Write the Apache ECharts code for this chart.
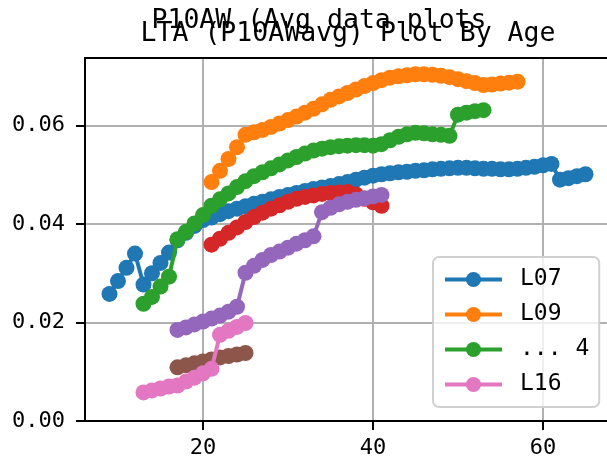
<!DOCTYPE html>
<html>
<head>
<meta charset="utf-8">
<script src="https://cdn.jsdelivr.net/npm/echarts@6/dist/echarts.min.js"></script>
<style>
html,body{margin:0;padding:0;background:#fff;}
#c{width:607px;height:463px;}
</style>
</head>
<body>
<div id="c"></div>
<script>
// ---- data (age -> P10AWavg) ----
const l07Start = 9;
const l07Values = [0.0258,0.0284,0.0311,0.0340,0.0277,0.0300,0.0321,0.0342,0.0367,0.0382,
  0.0396,0.0408,0.0413,0.0420,0.0426,0.0431,0.0436,0.0441,0.0445,0.0450,
  0.0455,0.0459,0.0463,0.0467,0.0471,0.0474,0.0477,0.0481,0.0485,0.0490,
  0.0494,0.0498,0.0501,0.0503,0.0505,0.0506,0.0508,0.0509,0.0511,0.0512,
  0.0513,0.0514,0.0514,0.0513,0.0512,0.0512,0.0511,0.0511,0.0512,0.0514,
  0.0516,0.0519,0.0522,0.0490,0.0493,0.0497,0.0501];
const l09Start = 21;
const l09Values = [0.0485,0.0508,0.0532,0.0556,0.0581,0.0586,0.0591,0.0597,0.0604,0.0611,
  0.0618,0.0626,0.0634,0.0643,0.0652,0.0659,0.0666,0.0673,0.0680,0.0686,
  0.0692,0.0697,0.0700,0.0702,0.0704,0.0704,0.0703,0.0701,0.0698,0.0694,
  0.0690,0.0686,0.0682,0.0683,0.0685,0.0687,0.0689];
const s3Start = 13;
const s3Values = [0.0238,0.0252,0.0273,0.0293,0.0369,0.0384,0.0401,0.0418,0.0437,0.0450,
  0.0462,0.0475,0.0487,0.0497,0.0505,0.0513,0.0521,0.0529,0.0536,0.0543,
  0.0549,0.0553,0.0556,0.0558,0.0559,0.0560,0.0560,0.0559,0.0562,0.0570,
  0.0577,0.0582,0.0585,0.0584,0.0582,0.0581,0.0579,0.0622,0.0626,0.0629,0.0631];
const s4Start = 21;
const s4Values = [0.0358,0.0370,0.0382,0.0393,0.0404,0.0414,0.0423,0.0431,0.0438,0.0445,
  0.0451,0.0455,0.0458,0.0461,0.0463,0.0464,0.0465,0.0460,0.0451,0.0444,0.0437];
const s5Start = 17;
const s5Values = [0.0185,0.0190,0.0196,0.0202,0.0208,0.0214,0.0222,0.0232,0.0301,0.0315,
  0.0327,0.0337,0.0344,0.0352,0.0360,0.0367,0.0375,0.0424,0.0433,0.0440,
  0.0445,0.0449,0.0452,0.0456,0.0459];
const s6Start = 17;
const s6Values = [0.0109,0.0113,0.0117,0.0121,0.0125,0.0129,0.0132,0.0135,0.0138];
const l16Start = 13;
const l16Values = [0.0058,0.0062,0.0066,0.0070,0.0072,0.0080,0.0088,0.0097,0.0106,0.0175,
  0.0183,0.0191,0.0199];

const seriesNames = ['L07','L09','... 4','S4','S5','S6','L16'];
const legendNames = ['L07','L09','... 4','L16'];
const xTicks = [20,40,60];
const yTicks = [0.00,0.02,0.04,0.06];
const mainTitle = 'LTA (P10AWavg) Plot By Age';
const superTitle = 'P10AW (Avg data plots';

// ---- build ----
const colors = ['#1f77b4','#ff7f0e','#2ca02c','#d62728','#9467bd','#8c564b','#e377c2'];
const starts = [l07Start,l09Start,s3Start,s4Start,s5Start,s6Start,l16Start];
const vals = [l07Values,l09Values,s3Values,s4Values,s5Values,s6Values,l16Values];
function pairs(start, v){ return v.map((y,i)=>[start+i,y]); }

const FONT = '"DejaVu Sans Mono", monospace';
const chart = echarts.init(document.getElementById('c'), null, {renderer:'canvas'});
const xMin = 6.12, xMax = 67.53, yMin = 0, yMax = 0.0737;

chart.setOption({
  animation:false,
  backgroundColor:'#fff',
  grid:{left:85,right:0,top:58,bottom:42,containLabel:false},
  xAxis:[{
    type:'value', min:xMin, max:xMax, position:'bottom',
    axisLine:{show:true,onZero:false,lineStyle:{color:'#000',width:2}},
    axisTick:{show:true,length:9,inside:false,customValues:xTicks,lineStyle:{color:'#000',width:2}},
    axisLabel:{show:true,customValues:xTicks,margin:16,color:'#000',fontFamily:FONT,fontSize:22},
    splitLine:{show:true,lineStyle:{color:'#b0b0b0',width:2}}
  },{
    type:'value', min:xMin, max:xMax, position:'top',
    axisLine:{show:true,onZero:false,lineStyle:{color:'#000',width:2}},
    axisTick:{show:false}, axisLabel:{show:false}, splitLine:{show:false}
  }],
  yAxis:{
    type:'value', min:yMin, max:yMax,
    axisLine:{show:true,onZero:false,lineStyle:{color:'#000',width:2}},
    axisTick:{show:true,length:9,inside:false,customValues:yTicks,lineStyle:{color:'#000',width:2}},
    axisLabel:{show:true,customValues:yTicks,margin:20,color:'#000',fontFamily:FONT,fontSize:22,
      formatter:v=>v.toFixed(2)},
    splitLine:{show:true,lineStyle:{color:'#b0b0b0',width:2}}
  },
  legend:{
    data:legendNames, orient:'vertical', left:433, top:257,
    padding:[10,10,10,10], itemGap:10, itemWidth:57, itemHeight:19,
    lineStyle:{width:4},
    backgroundColor:'rgba(255,255,255,0.8)', borderColor:'#d0d0d0', borderWidth:2, borderRadius:6,
    textStyle:{color:'#000',fontFamily:FONT,fontSize:23,lineHeight:25,padding:[0,0,0,13]}
  },
  graphic:[
    {type:'text',style:{text:superTitle,x:319,y:21,align:'center',verticalAlign:'middle',
      font:'26.5px '+FONT,fill:'#000'}},
    {type:'text',style:{text:mainTitle,x:348,y:34,align:'center',verticalAlign:'middle',
      font:'26.5px '+FONT,fill:'#000'}}
  ],
  series: vals.map((v,i)=>({
    name:seriesNames[i], type:'line', data:pairs(starts[i],v),
    symbol:'circle', symbolSize:16, showSymbol:true,
    lineStyle:{color:colors[i],width:4}, itemStyle:{color:colors[i]},
    emphasis:{disabled:true}, z:2+i
  }))
});
</script>
</body>
</html>
